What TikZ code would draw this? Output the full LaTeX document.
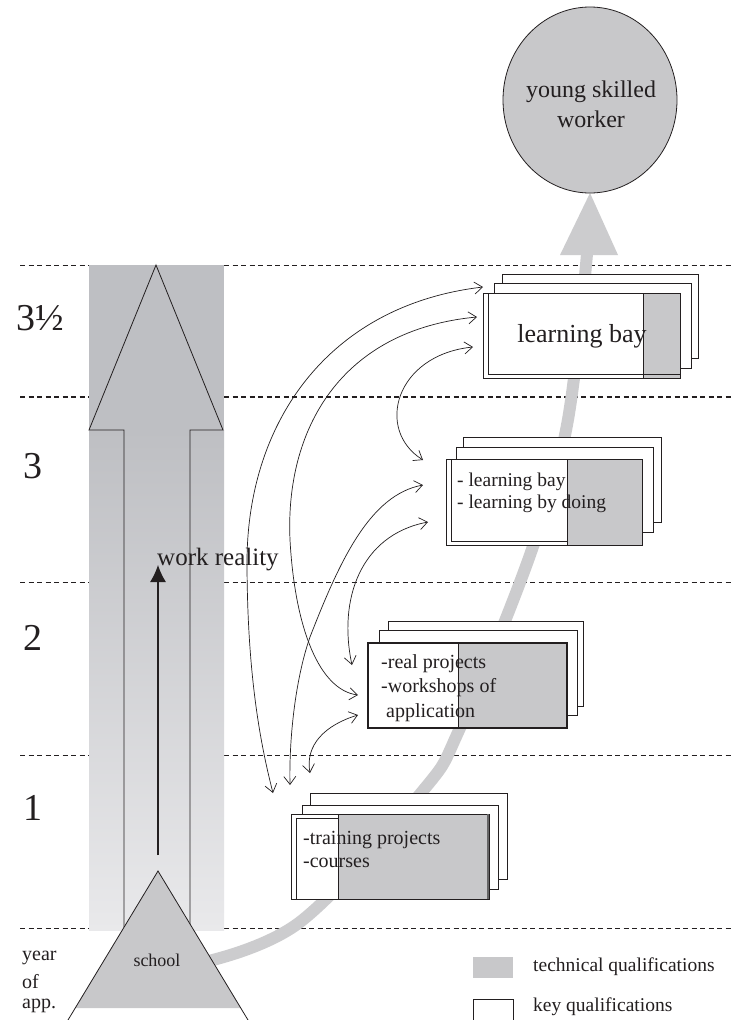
\documentclass[tikz,border=0pt]{standalone}
\usepackage{fontspec}
\setmainfont{Liberation Serif}
\usetikzlibrary{arrows.meta,shapes.geometric}
\definecolor{fillgray}{RGB}{200,200,202}
\definecolor{pathgray}{RGB}{204,204,206}
\definecolor{coltop}{RGB}{190,191,195}
\definecolor{colbot}{RGB}{233,233,235}
\definecolor{ink}{RGB}{35,31,32}
\tikzset{
  yearline/.style={draw=ink, dash pattern=on 5pt off 3.5pt},
  sheet/.style={draw=ink, fill=white, line width=0.8pt},
  link/.style={draw=ink, line width=0.7pt,
    {Straight Barb[length=8pt,width=12pt]}-{Straight Barb[length=8pt,width=12pt]}},
  lbl/.style={text=ink, inner sep=0pt},
  yearlbl/.style={lbl, font=\fontsize{38}{40}\selectfont},
  boxtxt/.style={lbl, align=left, anchor=west},
}
\begin{document}
\begin{tikzpicture}[x=1pt,y=-1pt]
\clip (0,0) rectangle (731,1020);
\fill[white] (0,0) rectangle (731,1020);

% year boundaries
\draw[yearline, line width=1pt]   (20,265) -- (731,265);
\draw[yearline, line width=1.8pt] (20,397) -- (731,397);
\draw[yearline, line width=0.8pt] (20,582) -- (731,582);
\draw[yearline, line width=0.8pt] (20,755) -- (731,755);
\draw[yearline, line width=1pt]   (20,928) -- (731,928);

% work reality column
\fill[coltop] (89,265) rectangle (224,431);
\shade[top color=coltop, bottom color=colbot] (89,430) rectangle (224,930);
\draw[ink, line width=0.8pt] (124,945) -- (124,430) -- (89,430) -- (156,265)
  -- (223,430) -- (190,430) -- (190,945);
\coordinate (wrlow) at (158,855);
\coordinate (wrhigh) at (158,565);
\draw[ink, line width=1.2pt, -{Latex[length=17pt,width=16pt]}] (wrlow) -- (wrhigh);
\node[lbl, anchor=west, font=\fontsize{25}{28}\selectfont] (wr) at (157,560) {work reality};

% career path towards the skilled worker
\draw[pathgray, line width=12pt] plot[smooth, tension=0.6] coordinates
  {(200,963) (300,922) (421,793) (460,728) (530,555) (567,425) (587,254)};
\fill[pathgray] (560,255) -- (590,193) -- (618,255) -- cycle;
\node[ellipse, draw=ink, line width=0.8pt, fill=fillgray,
      minimum width=174pt, minimum height=186pt] (worker) at (590,100) {};
\node[lbl, align=center, font=\fontsize{24}{30}\selectfont] (workertxt) at (591,104)
  {young skilled\\worker};

% year 3 1/2
\draw[sheet] (502,274) rectangle (698,358);
\draw[sheet] (494,283) rectangle (691,368);
\draw[sheet] (483,293) rectangle (680,378);
\fill[fillgray] (643,293) rectangle (680,378);
\draw[ink, line width=0.8pt] (483,293) rectangle (680,378);
\draw[ink, line width=0.8pt] (488,293) -- (488,374) -- (680,374);
\draw[ink, line width=0.8pt] (643,293) -- (643,378);
\node[lbl, font=\fontsize{26}{28}\selectfont] (bay) at (582,336) {learning bay};

% year 3
\draw[sheet] (463,437) rectangle (661,522);
\draw[sheet] (456,447) rectangle (653,532);
\draw[sheet] (446,459) rectangle (642,545);
\fill[fillgray] (567,459) rectangle (642,545);
\draw[ink, line width=0.8pt] (446,459) rectangle (642,545);
\draw[ink, line width=0.8pt] (451,459) -- (451,541) -- (567,541);
\draw[ink, line width=0.8pt] (567,459) -- (567,545);
\node[boxtxt, font=\fontsize{19.5}{21.5}\selectfont] (doing) at (457,493)
  {- learning bay\\- learning by doing};

% year 2
\draw[sheet] (388,621) rectangle (583,706);
\draw[sheet] (379,630) rectangle (577,715);
\draw[sheet] (368,643) rectangle (567,728);
\fill[fillgray] (458,643) rectangle (566,728);
\draw[ink, line width=1.5pt] (368,643) rectangle (567,728);
\draw[ink, line width=0.8pt] (458,643) -- (458,728);
\node[boxtxt, font=\fontsize{20}{24.5}\selectfont] (real) at (381,688)
  {-real projects\\-workshops of\\\hspace*{5pt}application};

% year 1
\draw[sheet] (310,793) rectangle (507,879);
\draw[sheet] (302,805) rectangle (498,889);
\draw[sheet] (291,814) rectangle (489,899);
\fill[fillgray] (338,814) rectangle (489,899);
\draw[ink, line width=0.8pt] (291,814) rectangle (489,899);
\draw[ink, line width=0.8pt] (296,899) -- (296,818) -- (338,818);
\draw[ink, line width=0.8pt] (338,814) -- (338,899);
\draw[black!60, line width=1.4pt] (488,814) -- (488,899);
\node[boxtxt, font=\fontsize{20}{23}\selectfont] (training) at (303,849)
  {-training projects\\-courses};

% links between the stages
\coordinate (a1) at (483,287);
\coordinate (a2) at (273,793);
\coordinate (b1) at (477,317);
\coordinate (b2) at (358,695);
\coordinate (c1) at (423,485);
\coordinate (c2) at (290,785);
\coordinate (d1) at (428,522);
\coordinate (d2) at (352,665);
\coordinate (e1) at (473,347);
\coordinate (e2) at (423,460);
\coordinate (f1) at (358,715);
\coordinate (f2) at (310,773);
\draw[link] (a1) .. controls (330,305) and (248,420) .. (247,560)
  .. controls (247,680) and (262,750) .. (a2);
\draw[link] (b1) .. controls (340,330) and (285,430) .. (290,540)
  .. controls (295,630) and (320,690) .. (b2);
\draw[link] (c1) .. controls (370,495) and (340,560) .. (310,637)
  .. controls (295,680) and (289,740) .. (c2);
\draw[link] (d1) .. controls (360,535) and (338,600) .. (d2);
\draw[link] (e1) .. controls (395,355) and (375,430) .. (e2);
\draw[link] (f1) .. controls (325,725) and (305,745) .. (f2);

% school
\fill[fillgray] (158,871) -- (75,1008) -- (241,1008) -- cycle;
\draw[ink, line width=0.8pt] (68,1020) -- (158,871) -- (248,1020);
\node[lbl, font=\fontsize{18}{20}\selectfont] (school) at (157,960) {school};

% year labels
\node[yearlbl] (y35) at (40,318) {3½};
\node[yearlbl] (y3) at (33,466) {3};
\node[yearlbl] (y2) at (33,638) {2};
\node[yearlbl] (y1) at (33,808) {1};
\node[lbl, anchor=west, font=\fontsize{20}{22}\selectfont] (yr) at (22,958) {year};
\node[lbl, anchor=west, font=\fontsize{20}{22}\selectfont] (of) at (22,982) {of};
\node[lbl, anchor=west, font=\fontsize{20}{22}\selectfont] (app) at (22,1006) {app.};

% legend
\fill[fillgray] (473,957) rectangle (513,978);
\draw[ink, line width=0.8pt] (473,999) rectangle (513,1030);
\node[lbl, anchor=west, font=\fontsize{19.5}{22}\selectfont] (tech) at (533,967) {technical qualifications};
\node[lbl, anchor=west, font=\fontsize{19.5}{22}\selectfont] (key) at (533,1007) {key qualifications};
\end{tikzpicture}
\end{document}
